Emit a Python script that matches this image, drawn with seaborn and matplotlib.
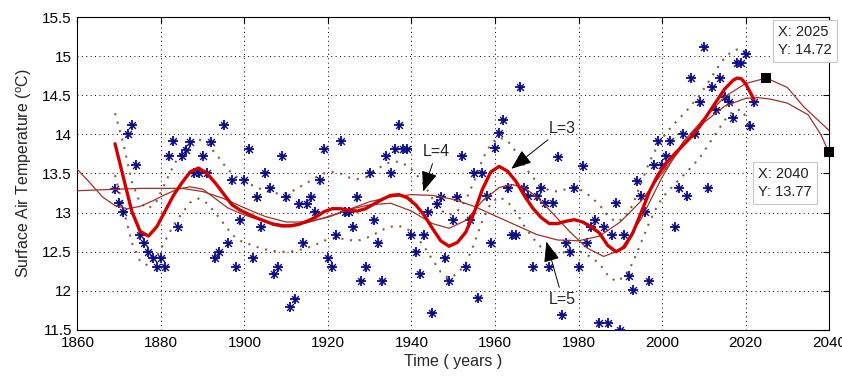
import numpy as np
import pandas as pd
import matplotlib
matplotlib.use("Agg")
import matplotlib.pyplot as plt
import seaborn as sns

# ---- observed annual surface air temperature (degC) ----
obs_years = list(range(1869, 2023))
obs_temp = [
    13.30, 13.12, 13.01, 14.00, 14.12, 13.61, 12.72, 12.61, 12.50, 12.42,
    12.31, 12.42, 12.31, 13.72, 13.91, 12.82, 13.72, 13.80, 13.90, 13.50,
    13.50, 13.72, 13.50, 13.90, 12.42, 12.50, 14.12, 12.61, 13.42, 12.31,
    12.91, 13.42, 13.81, 12.42, 13.20, 12.82, 13.50, 13.31, 12.21, 12.31,
    13.72, 13.20, 11.80, 11.90, 13.11, 12.61, 13.11, 13.20, 13.01, 13.42,
    13.81, 12.42, 12.31, 12.72, 13.91, 13.01, 13.01, 12.82, 13.20, 12.12,
    12.31, 13.50, 12.91, 12.61, 12.12, 13.72, 13.50, 13.81, 14.12, 13.81,
    13.81, 12.72, 12.50, 12.21, 12.72, 13.01, 11.72, 13.11, 13.20, 12.42,
    12.12, 12.91, 13.20, 13.72, 12.31, 12.91, 13.50, 11.91, 13.50, 13.21,
    12.61, 13.82, 14.02, 14.19, 13.31, 12.72, 12.72, 14.61, 13.31, 13.21,
    12.30, 13.21, 13.31, 13.12, 12.30, 13.12, 13.71, 11.69, 12.61, 12.50,
    13.31, 12.30, 13.60, 12.61, 12.82, 12.91, 11.59, 12.82, 11.59, 12.72,
    13.12, 11.50, 12.72, 12.19, 12.01, 13.41, 13.21, 13.01, 12.12, 13.61,
    13.91, 13.61, 13.72, 13.91, 12.81, 13.31, 14.01, 13.21, 14.72, 14.01,
    14.42, 15.12, 13.31, 14.60, 14.31, 14.72, 14.48, 14.42, 14.21, 14.91,
    14.91, 15.03, 14.11, 14.42,
]

# ---- L=3 smoothed curve (thick red) ----
l3_years = list(range(1869, 2018, 2)) + [2018, 2019, 2020, 2021, 2022]
l3_temp = [
    13.88, 13.45, 13.02, 12.76, 12.70, 12.82, 13.02, 13.22, 13.38, 13.52,
    13.57, 13.50, 13.38, 13.24, 13.10, 13.03, 12.98, 12.93, 12.89, 12.85,
    12.83, 12.83, 12.85, 12.89, 12.94, 13.01, 13.05, 13.05, 13.03, 13.02,
    13.05, 13.11, 13.17, 13.22, 13.23, 13.19, 13.10, 12.97, 12.80, 12.64,
    12.57, 12.62, 12.75, 13.00, 13.30, 13.52, 13.59, 13.53, 13.40, 13.22,
    13.06, 12.94, 12.86, 12.86, 12.89, 12.91, 12.88, 12.82, 12.74, 12.58,
    12.50, 12.56, 12.74, 13.00, 13.27, 13.48, 13.63, 13.75, 13.86, 13.97,
    14.10, 14.26, 14.42, 14.58, 14.69,
    14.72, 14.71, 14.65, 14.55, 14.45,
]

# ---- upper / lower bounds around the L=3 curve (dotted) ----
band_years = list(range(1869, 2022, 2))
band_upper = [
    14.27, 13.88, 13.40, 13.12, 13.05, 13.15, 13.38, 13.60, 13.78, 13.90,
    13.94, 13.88, 13.76, 13.62, 13.50, 13.42, 13.37, 13.32, 13.28, 13.25,
    13.24, 13.26, 13.32, 13.38, 13.45, 13.50, 13.52, 13.50, 13.45, 13.43,
    13.45, 13.52, 13.60, 13.65, 13.65, 13.60, 13.50, 13.36, 13.18, 13.03,
    12.97, 13.02, 13.16, 13.40, 13.68, 13.88, 13.96, 13.92, 13.78, 13.60,
    13.45, 13.35, 13.28, 13.27, 13.30, 13.32, 13.28, 13.20, 13.10, 12.96,
    12.88, 12.93, 13.10, 13.38, 13.65, 13.86, 14.02, 14.14, 14.25, 14.37,
    14.50, 14.66, 14.83, 14.98, 15.07, 15.10, 14.98,
]
band_lower = [
    13.48, 13.05, 12.62, 12.38, 12.32, 12.44, 12.64, 12.84, 12.99, 13.13,
    13.18, 13.12, 13.00, 12.86, 12.72, 12.64, 12.60, 12.56, 12.53, 12.51,
    12.50, 12.50, 12.52, 12.55, 12.59, 12.64, 12.67, 12.67, 12.65, 12.64,
    12.67, 12.72, 12.78, 12.82, 12.83, 12.79, 12.70, 12.57, 12.40, 12.24,
    12.16, 12.22, 12.35, 12.60, 12.90, 13.12, 13.20, 13.14, 13.01, 12.83,
    12.68, 12.56, 12.48, 12.47, 12.50, 12.52, 12.49, 12.43, 12.35, 12.20,
    12.12, 12.18, 12.36, 12.62, 12.88, 13.10, 13.25, 13.36, 13.47, 13.58,
    13.70, 13.86, 14.02, 14.18, 14.30, 14.32, 14.14,
]

# ---- L=4 and L=5 extrapolated curves (thin) ----
l4_years = [1860, 1863, 1866, 1869, 1872, 1875, 1878, 1881, 1884, 1887,
            1890, 1893, 1896, 1900, 1905, 1910, 1915, 1920, 1925, 1930,
            1935, 1940, 1945, 1949, 1953, 1957, 1961, 1964, 1967, 1970,
            1974, 1978, 1982, 1986, 1990, 1995, 2000, 2005, 2010, 2015,
            2020, 2025, 2030, 2034, 2040]
l4_temp = [13.55, 13.38, 13.20, 13.09, 13.05, 13.08, 13.15, 13.23, 13.30, 13.33,
           13.30, 13.18, 13.06, 12.97, 12.88, 12.84, 12.87, 12.95, 13.04, 13.10,
           13.12, 13.02, 12.86, 12.80, 12.90, 13.15, 13.32, 13.36, 13.32, 13.20,
           12.98, 12.75, 12.55, 12.44, 12.52, 12.92, 13.45, 13.90, 14.20, 14.48,
           14.65, 14.72, 14.60, 14.35, 14.05]

l5_years = [1860, 1865, 1870, 1875, 1880, 1885, 1890, 1895, 1900, 1905,
            1910, 1915, 1920, 1925, 1930, 1935, 1940, 1945, 1950, 1955,
            1960, 1965, 1970, 1975, 1980, 1985, 1990, 1995, 2000, 2005,
            2010, 2015, 2020, 2023, 2026, 2030, 2035, 2038, 2040]
l5_temp = [13.28, 13.29, 13.30, 13.31, 13.31, 13.31, 13.27, 13.18, 13.06, 12.95,
           12.88, 12.88, 12.94, 13.04, 13.14, 13.20, 13.23, 13.22, 13.17, 13.08,
           12.96, 12.84, 12.72, 12.65, 12.64, 12.70, 12.88, 13.15, 13.50, 13.85,
           14.15, 14.36, 14.46, 14.47, 14.45, 14.40, 14.25, 14.00, 13.77]

# ---- data tips ----
tip_years = [2025, 2040]
tip_temp = [14.72, 13.77]

x_ticks = [1860, 1880, 1900, 1920, 1940, 1960, 1980, 2000, 2020, 2040]
y_ticks = [11.5, 12, 12.5, 13, 13.5, 14, 14.5, 15, 15.5]

sns.set_theme(style="white")
plt.rcParams["font.family"] = ["Liberation Sans", "DejaVu Sans"]
plt.rcParams["mathtext.fontset"] = "custom"
plt.rcParams["mathtext.rm"] = "Liberation Sans"

fig = plt.figure(figsize=(8.42, 3.83), dpi=100)
ax = fig.add_axes([0.0920, 0.1384, 0.8926, 0.8172])

navy = "#0b0b8a"
red = "#d30000"
thin = "#9c3328"
dotc = "#8a5a44"

# observations as MATLAB-style asterisks
obs = pd.DataFrame({"year": obs_years, "temp": obs_temp})
sns.scatterplot(data=obs, x="year", y="temp", ax=ax, marker="+", s=62,
                color=navy, edgecolor=navy, linewidth=1.3, zorder=3)
sns.scatterplot(data=obs, x="year", y="temp", ax=ax, marker="x", s=24,
                color=navy, edgecolor=navy, linewidth=1.0, zorder=3)
sns.scatterplot(data=obs, x="year", y="temp", ax=ax, marker="o", s=9,
                color=navy, edgecolor=navy, linewidth=0, zorder=3)

# bounds (dotted)
for vals in (band_upper, band_lower):
    sns.lineplot(x=band_years, y=vals, ax=ax, color=dotc, linewidth=1.5,
                 linestyle=(0, (1.0, 3.2)), sort=False, errorbar=None, zorder=2)

# thin curves
sns.lineplot(x=l4_years, y=l4_temp, ax=ax, color=thin, linewidth=0.9,
             sort=False, errorbar=None, zorder=4)
sns.lineplot(x=l5_years, y=l5_temp, ax=ax, color=thin, linewidth=0.9,
             sort=False, errorbar=None, zorder=4)

# thick curve
sns.lineplot(x=l3_years, y=l3_temp, ax=ax, color=red, linewidth=2.4,
             sort=False, errorbar=None, zorder=5)

# data tip markers
sns.scatterplot(x=tip_years, y=tip_temp, ax=ax, marker="s", s=48, color="black",
                edgecolor="black", linewidth=0, zorder=8, clip_on=False)

tip_offsets = [(12, 53), (-71, -15)]
for yr, tv, off in zip(tip_years, tip_temp, tip_offsets):
    ax.annotate(f"X: {yr}\nY: {tv:.2f}", xy=(yr, tv), xytext=off,
                textcoords="offset pixels", ha="left", va="top",
                fontsize=10.5, linespacing=1.35, color="#222222",
                bbox=dict(boxstyle="square,pad=0.35", fc="white",
                          ec="#c8c8c8", lw=0.8),
                annotation_clip=False, zorder=9)

# curve labels with arrows
arrow_kw = dict(arrowstyle="-|>,head_length=0.9,head_width=0.35", color="black",
                lw=0.7, shrinkA=1, shrinkB=0, mutation_scale=14)
ax.annotate("L=4", xy=(1942.8, 13.27), xytext=(1946.0, 13.78), fontsize=11.5,
            ha="center", va="center", arrowprops=arrow_kw, zorder=7)
ax.annotate("L=3", xy=(1963.9, 13.56), xytext=(1976.2, 14.08), fontsize=11.5,
            ha="center", va="center", arrowprops=arrow_kw, zorder=7)
ax.annotate("L=5", xy=(1972.3, 12.63), xytext=(1976.2, 11.89), fontsize=11.5,
            ha="center", va="center", arrowprops=arrow_kw, zorder=7)

ax.set_xlim(1860, 2040)
ax.set_ylim(11.5, 15.5)
ax.set_xticks(x_ticks)
ax.set_yticks(y_ticks)
ax.set_yticklabels([f"{v:g}" for v in y_ticks])
ax.tick_params(direction="in", length=4, width=0.8, top=True, right=True,
               labelsize=11, colors="black", pad=4)
ax.grid(True, color="black", linestyle=(0, (1, 3.5)), linewidth=0.7)
for sp in ax.spines.values():
    sp.set_color("black")
    sp.set_linewidth(0.8)

ax.set_xlabel("Time ( years )", fontsize=11.5, labelpad=3)
ax.set_ylabel("Surface Air Temperature ($^{\\mathrm{o}}$C)", fontsize=11.5, labelpad=6)

fig.savefig("out.png", dpi=100)
